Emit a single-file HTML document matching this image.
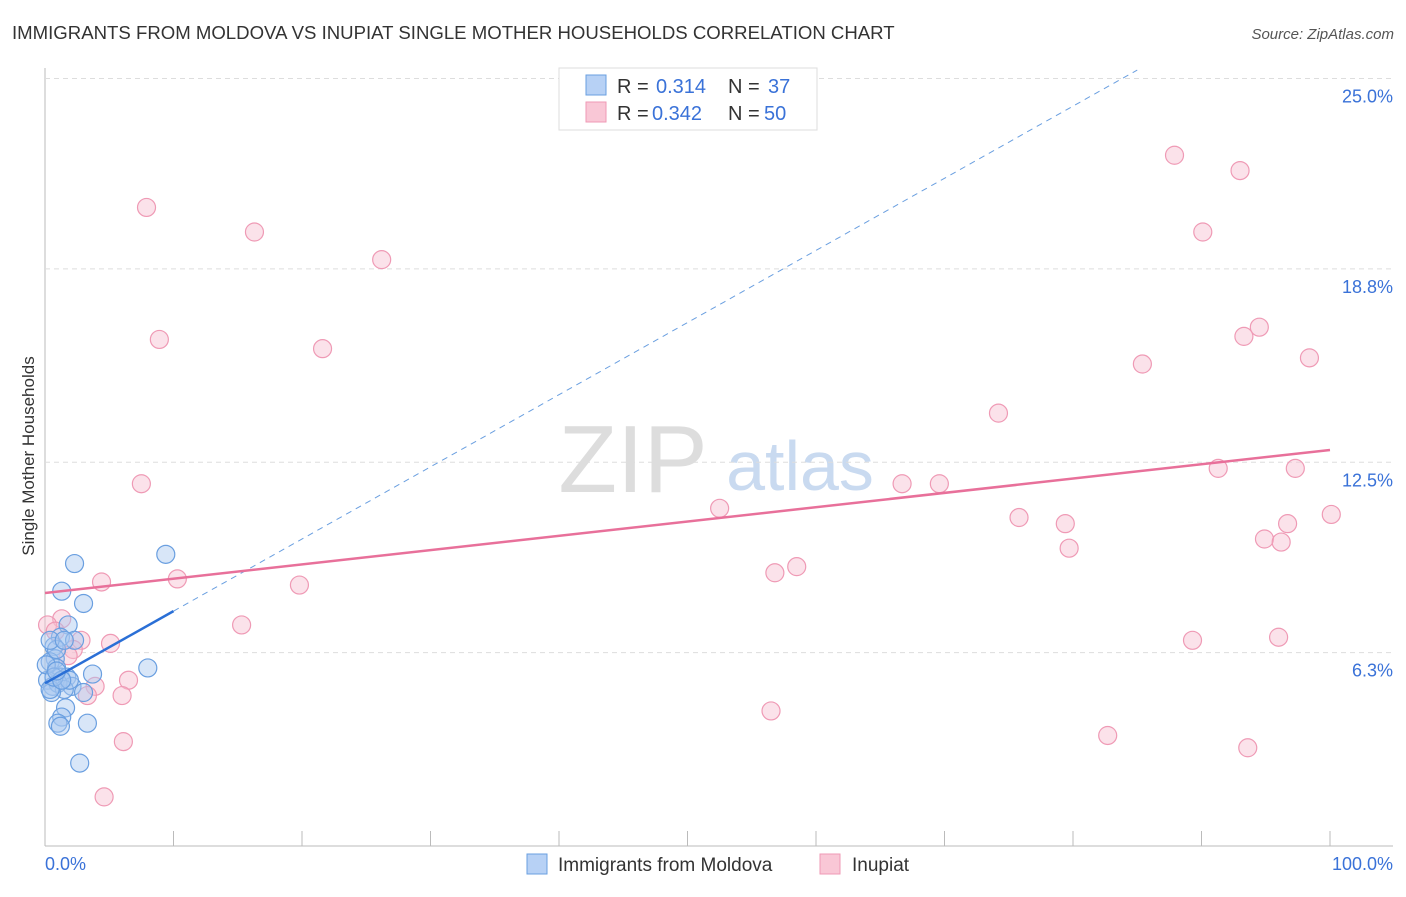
<!DOCTYPE html>
<html><head><meta charset="utf-8"><style>
body{margin:0;background:#fff;font-family:"Liberation Sans",sans-serif}
svg text{font-family:"Liberation Sans",sans-serif}
</style></head><body>
<svg id="c" width="1406" height="892">
<text x="12" y="39" font-size="18.6" fill="#333">IMMIGRANTS FROM MOLDOVA VS INUPIAT SINGLE MOTHER HOUSEHOLDS CORRELATION CHART</text>
<text x="1394" y="39" font-size="15" fill="#555" font-style="italic" text-anchor="end">Source: ZipAtlas.com</text>
<text x="34" y="456" font-size="17" fill="#333" text-anchor="middle" transform="rotate(-90 34 456)">Single Mother Households</text>
<text x="633" y="492" font-size="96" fill="#ddd" font-family="Liberation Serif" text-anchor="middle">ZIP</text>
<text x="800" y="490" font-size="70" fill="#c9daf0" text-anchor="middle">atlas</text>
<g id="grid"></g><g id="pts"></g><g id="lines"></g>
<g>
<rect x="559" y="68" width="258" height="62" fill="#fff" stroke="#ddd"/>
<rect x="586" y="75" width="20" height="20" fill="#b7d1f5" stroke="#6a9fe0"/>
<rect x="586" y="102" width="20" height="20" fill="#f9c7d6" stroke="#ef9ab5"/>
<text x="617" y="93" font-size="20" fill="#333">R =</text>
<text x="656" y="93" font-size="20" fill="#3a72d8">0.314</text>
<text x="728" y="93" font-size="20" fill="#333">N =</text>
<text x="768" y="93" font-size="20" fill="#3a72d8">37</text>
<text x="617" y="120" font-size="20" fill="#333">R =</text>
<text x="652" y="120" font-size="20" fill="#3a72d8">0.342</text>
<text x="728" y="120" font-size="20" fill="#333">N =</text>
<text x="764" y="120" font-size="20" fill="#3a72d8">50</text>
</g>
<g>
<rect x="527" y="854" width="20" height="20" fill="#b7d1f5" stroke="#6a9fe0"/>
<text x="558" y="871" font-size="19" fill="#333">Immigrants from Moldova</text>
<rect x="820" y="854" width="20" height="20" fill="#f9c7d6" stroke="#ef9ab5"/>
<text x="852" y="871" font-size="19" fill="#333">Inupiat</text>
</g>
<text x="45" y="870" font-size="18" fill="#3a72d8">0.0%</text>
<text x="1393" y="870" font-size="18" fill="#3a72d8" text-anchor="end">100.0%</text>
</svg>
<script>
const yTicks=[6.3,12.5,18.8,25.0];
const xTicks=[0,10,20,30,40,50,60,70,80,90,100];
const blueX=[2.3,1.3,3.0,9.4,1.8,1.2,2.3,0.7,0.8,0.4,0.9,1.2,0.2,0.6,1.7,2.1,1.0,1.5,0.5,3.7,8.0,3.0,1.6,1.3,1.0,1.2,3.3,2.7,0.4,0.9,1.9,0.1,0.4,1.5,0.7,1.3,0.9];
const blueY=[9.2,8.3,7.9,9.5,7.2,6.8,6.7,6.5,6.1,6.0,5.8,5.5,5.4,5.2,5.5,5.2,5.3,5.1,5.0,5.6,5.8,5.0,4.5,4.2,4.0,3.9,4.0,2.7,5.1,6.4,5.4,5.9,6.7,6.7,5.5,5.4,5.7];
const pinkX=[7.9,16.3,26.2,8.9,21.6,7.5,4.4,10.3,19.8,15.3,1.3,0.2,2.8,2.2,5.1,3.9,6.5,6.0,3.3,6.1,4.6,52.5,56.8,58.5,56.5,66.7,69.6,74.2,75.8,79.4,79.7,82.7,85.4,87.9,90.1,89.3,91.3,93.0,93.3,94.5,93.6,94.9,96.0,96.2,96.7,97.3,98.4,100.1,0.8,1.8];
const pinkY=[20.8,20.0,19.1,16.5,16.2,11.8,8.6,8.7,8.5,7.2,7.4,7.2,6.7,6.4,6.6,5.2,5.4,4.9,4.9,3.4,1.6,11.0,8.9,9.1,4.4,11.8,11.8,14.1,10.7,10.5,9.7,3.6,15.7,22.5,20.0,6.7,12.3,22.0,16.6,16.9,3.2,10.0,6.8,9.9,10.5,12.3,15.9,10.8,7.0,6.2];
const blueTrend=[5.3,0.235];
const pinkTrend=[8.24,0.0466];
const X=v=>45+v*12.85, Y=v=>846-v*30.7;
const NS='http://www.w3.org/2000/svg';
function mk(t,a,p){const e=document.createElementNS(NS,t);for(const k in a)e.setAttribute(k,a[k]);p.appendChild(e);return e;}
const g=document.getElementById('grid');
mk('line',{x1:45,y1:68,x2:45,y2:846,stroke:'#bbb'},g);
mk('line',{x1:45,y1:846,x2:1393,y2:846,stroke:'#bbb'},g);
yTicks.forEach(v=>{
 const l=mk('line',{x1:45,y1:Y(v),x2:1393,y2:Y(v),stroke:'#ddd','stroke-dasharray':'5,4'},g);
 
 
 const t=mk('text',{x:1393,y:Y(v)+24,'font-size':18,fill:'#3a72d8','text-anchor':'end'},g);
 t.textContent=v.toFixed(1)+'%';
 
 
});
xTicks.forEach(v=>{
 const l=mk('line',{x1:X(v),y1:831,x2:X(v),y2:846,stroke:'#bbb'},g);
 
 
});
const p=document.getElementById('pts');
pinkX.forEach((x,i)=>{
 const c=mk('circle',{cx:X(x),cy:Y(pinkY[i]),r:9,fill:'#f7bfd0','fill-opacity':0.45,stroke:'#ef9ab5','stroke-width':1.2},p);
 
 
});
blueX.forEach((x,i)=>{
 const c=mk('circle',{cx:X(x),cy:Y(blueY[i]),r:9,fill:'#a9c8f0','fill-opacity':0.45,stroke:'#6a9fe0','stroke-width':1.2},p);
 
 
});
const L=document.getElementById('lines');
const bt=v=>blueTrend[0]+blueTrend[1]*v, pt=v=>pinkTrend[0]+pinkTrend[1]*v;
let e=mk('line',{x1:X(10),y1:Y(bt(10)),x2:X(85),y2:Y(bt(85)),stroke:'#6a9fe0','stroke-width':1,'stroke-dasharray':'6,5'},L);


e=mk('line',{x1:X(0),y1:Y(bt(0)),x2:X(10),y2:Y(bt(10)),stroke:'#2a6fd6','stroke-width':2.5},L);


e=mk('line',{x1:X(0),y1:Y(pt(0)),x2:X(100),y2:Y(pt(100)),stroke:'#e8709a','stroke-width':2.5},L);


</script>
</body></html>
